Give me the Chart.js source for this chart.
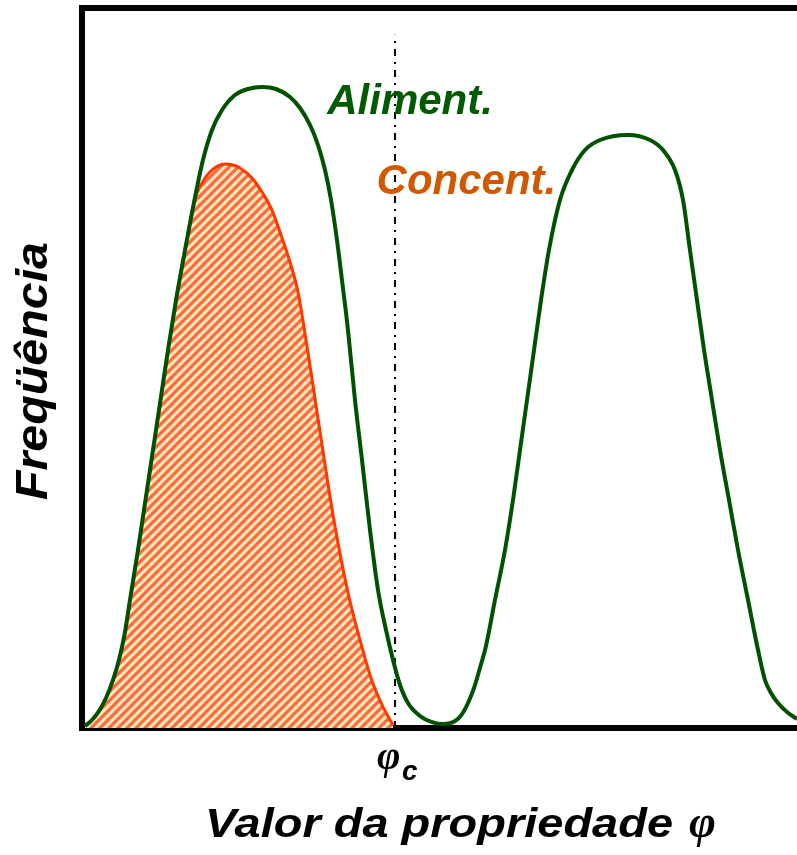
<!DOCTYPE html>
<html>
<head>
<meta charset="utf-8">
<script src="https://cdn.jsdelivr.net/npm/chart.js@4.4.1/dist/chart.umd.min.js"></script>
<style>
  html, body { margin: 0; padding: 0; background: #ffffff; }
  canvas { display: block; }
</style>
</head>
<body>
<canvas id="chart" width="797" height="855"></canvas>
<script>
// Property value φ (0–100, arbitrary units) and frequency (0–100) for the feed ("Aliment.")
const alimentPhi  = [0.42, 1.40, 2.38, 3.36, 4.34, 5.17, 6.01, 6.71, 7.83, 8.88, 9.93, 10.98, 12.03, 13.15, 14.41,
                     15.73, 16.92, 18.18, 19.58, 21.40, 23.22, 25.17, 27.13, 29.09, 30.49, 31.89, 33.01, 33.99,
                     34.83, 35.66, 36.36, 37.20, 38.18, 39.16, 40.28, 41.40, 42.52, 43.50, 44.48, 45.59, 47.27,
                     48.95, 50.49, 52.17, 53.15, 53.99, 54.83, 55.66, 56.50, 57.76, 59.16, 60.28, 61.26, 62.24,
                     63.22, 64.20, 65.31, 66.85, 68.53, 70.35, 72.45, 76.36, 79.44, 81.26, 82.94, 84.06, 85.03,
                     86.01, 87.00, 88.11, 89.23, 90.49, 91.75, 93.15, 94.55, 95.52, 96.36, 97.34, 98.60, 100];
const alimentFreq = [0.28, 1.11, 2.36, 4.17, 6.67, 9.44, 13.33, 17.78, 24.72, 31.67, 38.61, 45.56, 52.50, 59.44, 66.39,
                     73.33, 78.89, 83.06, 85.83, 87.92, 88.75, 89.03, 88.75, 87.64, 86.11, 83.75, 80.97, 77.50,
                     73.33, 67.78, 62.22, 55.28, 45.56, 37.22, 27.50, 19.17, 13.61, 9.44, 5.97, 3.47, 1.67,
                     0.83, 0.56, 0.97, 1.94, 3.47, 5.56, 8.33, 11.39, 17.78, 24.72, 31.67, 38.61, 45.56,
                     52.50, 59.44, 66.39, 73.33, 77.50, 80.28, 81.67, 82.36, 81.67, 80.28, 77.50, 73.33, 66.39,
                     59.44, 52.50, 45.56, 38.61, 31.67, 24.72, 17.78, 10.83, 6.67, 4.86, 3.47, 2.22, 1.25];

// Concentrate ("Concent.") distribution
const concentPhi  = [0.42, 1.40, 2.38, 3.36, 4.34, 5.17, 6.01, 6.71, 7.83, 8.88, 9.93, 10.98, 12.03, 13.15, 14.41,
                     15.73, 16.08, 17.20, 18.18, 19.02, 20.00, 21.12, 22.10, 23.78, 25.17, 26.57, 27.83, 29.09,
                     30.21, 31.33, 32.45, 33.57, 34.69, 35.94, 37.34, 38.88, 40.42, 42.10, 43.50];
const concentFreq = [0.28, 1.11, 2.36, 4.17, 6.67, 9.44, 13.33, 17.78, 24.72, 31.67, 38.61, 45.56, 52.50, 59.44, 66.39,
                     73.33, 74.31, 76.39, 77.50, 78.06, 78.33, 78.19, 77.78, 76.39, 74.44, 71.94, 68.47, 64.72,
                     60.56, 53.89, 46.67, 39.31, 32.08, 25.00, 18.19, 12.22, 6.94, 2.92, 0.42];

// Cut value φc and the extent of its marker line
const PHI_C = 43.78;
const cutLineFreq = [0, 96.3];

const pairs = (xs, ys) => xs.map((x, i) => ({ x: x, y: ys[i] }));

// Diagonal hatch used under the concentrate curve
function makeHatch() {
  const p = 9;
  const tile = document.createElement('canvas');
  tile.width = p; tile.height = p;
  const g = tile.getContext('2d');
  g.fillStyle = '#FFE8BA';
  g.fillRect(0, 0, p, p);
  g.strokeStyle = '#FF6A40';
  g.lineWidth = 3.3;
  g.beginPath();
  g.moveTo(-p, p);    g.lineTo(p, -p);
  g.moveTo(0, p);     g.lineTo(p, 0);
  g.moveTo(0, 2 * p); g.lineTo(2 * p, 0);
  g.stroke();
  return g.createPattern(tile, 'repeat');
}

const SANS = '"Liberation Sans", Arial, Helvetica, sans-serif';
const SERIF = '"Liberation Serif", "Times New Roman", serif';

// Draw text stretched horizontally to a given width
function fitText(ctx, text, x, y, width) {
  const w = ctx.measureText(text).width;
  ctx.save();
  ctx.translate(x, y);
  ctx.scale(width / w, 1);
  ctx.fillText(text, 0, 0);
  ctx.restore();
}

const labelsPlugin = {
  id: 'labels',
  afterDraw(chart) {
    const { ctx, chartArea: area, scales: { x, y } } = chart;
    ctx.save();
    ctx.textAlign = 'left';
    ctx.textBaseline = 'alphabetic';

    // series names
    ctx.font = 'italic bold 42px ' + SANS;
    ctx.fillStyle = '#005A00';
    ctx.fillText('Aliment.', x.getPixelForValue(34.3), y.getPixelForValue(85.3));
    ctx.fillStyle = '#D05800';
    ctx.fillText('Concent.', x.getPixelForValue(41.2), y.getPixelForValue(74.2));

    // φc under the cut line
    const cx = x.getPixelForValue(PHI_C);
    ctx.fillStyle = '#000000';
    ctx.font = 'italic bold 40px ' + SERIF;
    ctx.fillText('φ', cx - 18, area.bottom + 41);
    ctx.font = 'italic bold 28px ' + SANS;
    ctx.fillText('c', cx + 7, area.bottom + 52);

    // x axis title
    ctx.font = 'italic bold 40px ' + SANS;
    fitText(ctx, 'Valor da propriedade', area.left + 123, area.bottom + 109, 468);
    ctx.font = 'italic bold 46px ' + SERIF;
    ctx.fillText('φ', area.left + 607, area.bottom + 109);

    // y axis title
    ctx.save();
    ctx.translate(area.left - 35, 500);
    ctx.rotate(-Math.PI / 2);
    ctx.font = 'italic bold 45px ' + SANS;
    fitText(ctx, 'Freqüência', 0, 0, 258);
    ctx.restore();

    ctx.restore();
  }
};

const frameAxis = (position) => ({
  type: 'linear',
  min: 0,
  max: 100,
  position: position,
  display: true,
  grid: { display: true, drawOnChartArea: false, drawTicks: false, color: 'rgba(0,0,0,0)' },
  ticks: { display: false },
  border: { display: true, color: '#000000', width: 6 },
  afterFit(scale) {
    if (scale.isHorizontal()) scale.height = 0; else scale.width = 0;
  }
});

const ctx = document.getElementById('chart').getContext('2d');
new Chart(ctx, {
  type: 'line',
  data: {
    datasets: [
      {
        label: 'Aliment.',
        data: pairs(alimentPhi, alimentFreq),
        borderColor: '#005200',
        borderWidth: 4,
        pointRadius: 0,
        fill: false,
        cubicInterpolationMode: 'monotone',
        order: 0
      },
      {
        label: 'φc',
        data: pairs([PHI_C, PHI_C], cutLineFreq),
        borderColor: '#000000',
        borderWidth: 2,
        borderDash: [7, 6, 2, 6],
        pointRadius: 0,
        fill: false,
        order: 1
      },
      {
        label: 'Concent.',
        data: pairs(concentPhi, concentFreq),
        borderColor: '#FF3800',
        borderWidth: 3,
        backgroundColor: makeHatch(),
        pointRadius: 0,
        fill: 'origin',
        cubicInterpolationMode: 'monotone',
        order: 2
      }
    ]
  },
  options: {
    responsive: false,
    animation: false,
    devicePixelRatio: 1,
    layout: { padding: { left: 82, top: 8, right: 0, bottom: 127 } },
    plugins: { legend: { display: false }, tooltip: { enabled: false } },
    scales: {
      x: frameAxis('bottom'),
      xTop: frameAxis('top'),
      y: frameAxis('left')
    }
  },
  plugins: [labelsPlugin]
});
</script>
</body>
</html>
